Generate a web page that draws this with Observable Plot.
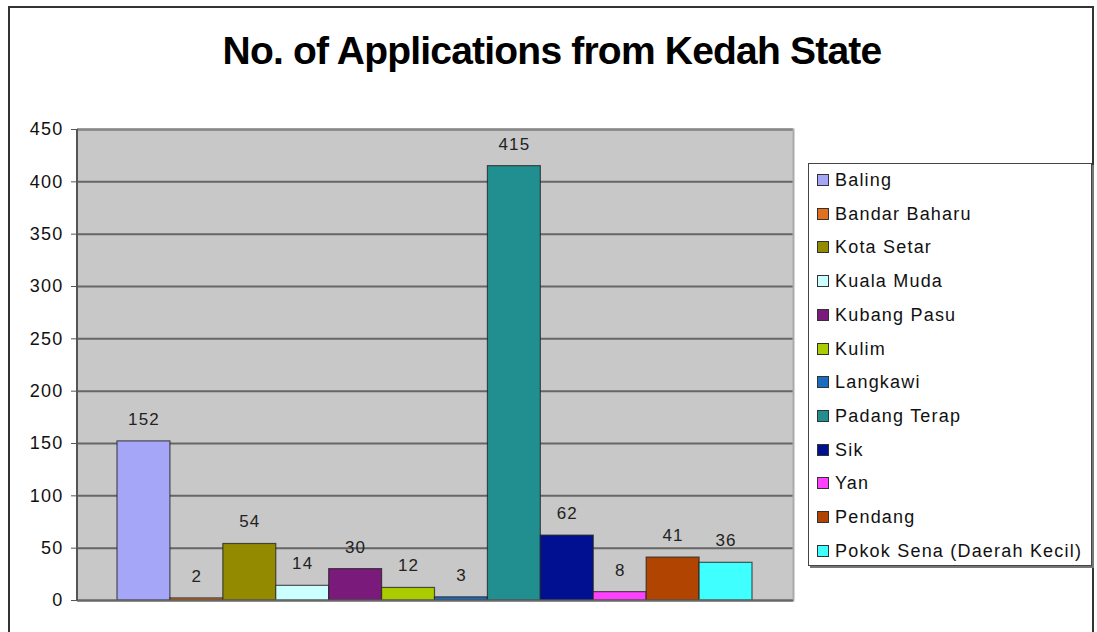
<!DOCTYPE html>
<html>
<head>
<meta charset="utf-8">
<script src="https://cdn.jsdelivr.net/npm/d3@7"></script>
<script src="https://cdn.jsdelivr.net/npm/@observablehq/plot@0.6"></script>
<style>
  html, body { margin: 0; padding: 0; background: #fff; }
  #wrap { position: relative; width: 1097px; height: 632px; overflow: hidden; font-family: "Liberation Sans", Arial, sans-serif; }
  #border { position: absolute; left: 8px; top: 6px; width: 1086px; height: 640px; border: 2px solid #333; box-sizing: border-box; }
  #title { position: absolute; left: 0; width: 1104px; top: 29px; text-align: center; font-size: 39px; font-weight: bold; color: #000; letter-spacing: -0.8px; }
  #chart { position: absolute; left: 0; top: 0; }
  #legend { position: absolute; left: 808px; top: 163px; width: 284px; height: 403px; box-sizing: border-box; border: 1px solid #444; box-shadow: 2px 2px 0 #777; background: #fff; }
  .item { position: absolute; left: 8px; font-size: 18px; letter-spacing: 1.2px; color: #111; white-space: nowrap; line-height: 20px; }
  .sw { display: inline-block; width: 10px; height: 10px; border: 1px solid #333; margin-right: 6px; vertical-align: 0px; }
</style>
</head>
<body>
<div id="wrap">
  <div id="border"></div>
  <div id="chart"></div>
  <div id="title">No. of Applications from Kedah State</div>
  <div id="legend"></div>
</div>
<script>
const districts = ["Baling", "Bandar Baharu", "Kota Setar", "Kuala Muda", "Kubang Pasu", "Kulim", "Langkawi", "Padang Terap", "Sik", "Yan", "Pendang", "Pokok Sena (Daerah Kecil)"];
const applications = [152, 2, 54, 14, 30, 12, 3, 415, 62, 8, 41, 36];
const colors = ["#a6a6f8", "#e0701d", "#948a00", "#ccffff", "#7a1a7a", "#aacc00", "#1a6cc0", "#218f8f", "#001090", "#ff40ff", "#b04400", "#40ffff"];
const yTicks = [0, 50, 100, 150, 200, 250, 300, 350, 400, 450];

const data = districts.map((d, i) => ({district: d, value: applications[i]}));

const chart = Plot.plot({
  width: 1097,
  height: 632,
  marginTop: 129,
  marginBottom: 32,
  marginLeft: 77,
  marginRight: 304,
  style: {fontFamily: "'Liberation Sans', Arial, sans-serif", fontSize: "18px", letterSpacing: "1.2px", background: "transparent", color: "#111"},
  x: {domain: districts, padding: 0, round: false, insetLeft: 40, insetRight: 41, axis: null},
  y: {domain: [0, 450], ticks: yTicks, tickSize: 6, tickPadding: 9, label: null, line: false},
  color: {domain: districts, range: colors},
  marks: [
    Plot.frame({fill: "#c8c8c8", stroke: null}),
    Plot.ruleY(yTicks, {stroke: "#666", strokeWidth: 2}),
    Plot.ruleY([450], {stroke: "#888", strokeWidth: 2}),
    Plot.frame({anchor: "right", stroke: "#aaa", strokeWidth: 2}),
    Plot.barY(data, {x: "district", y: "value", fill: "district", stroke: "#222", strokeOpacity: 0.75, strokeWidth: 1.2}),
    Plot.text(data, {x: "district", y: "value", text: d => String(d.value), dy: -22, fontSize: 17, fill: "#222"}),
    Plot.axisY({ticks: yTicks, tickSize: 6, tickPadding: 8, fontSize: 18, stroke: "#555"}),
    Plot.ruleY([0], {stroke: "#666", strokeWidth: 2})
  ]
});
document.getElementById("chart").appendChild(chart);

// left axis line
const svg = d3.select(chart);
const ys = chart.scale("y");
svg.append("line")
  .attr("x1", 77).attr("x2", 77)
  .attr("y1", ys.apply(0)).attr("y2", ys.apply(450))
  .attr("stroke", "#555").attr("stroke-width", 2);

const legend = document.getElementById("legend");
districts.forEach((d, i) => {
  const div = document.createElement("div");
  div.className = "item";
  div.style.top = (6 + i * 33.7) + "px";
  div.innerHTML = `<span class="sw" style="background:${colors[i]}"></span>${d}`;
  legend.appendChild(div);
});
</script>
</body>
</html>
